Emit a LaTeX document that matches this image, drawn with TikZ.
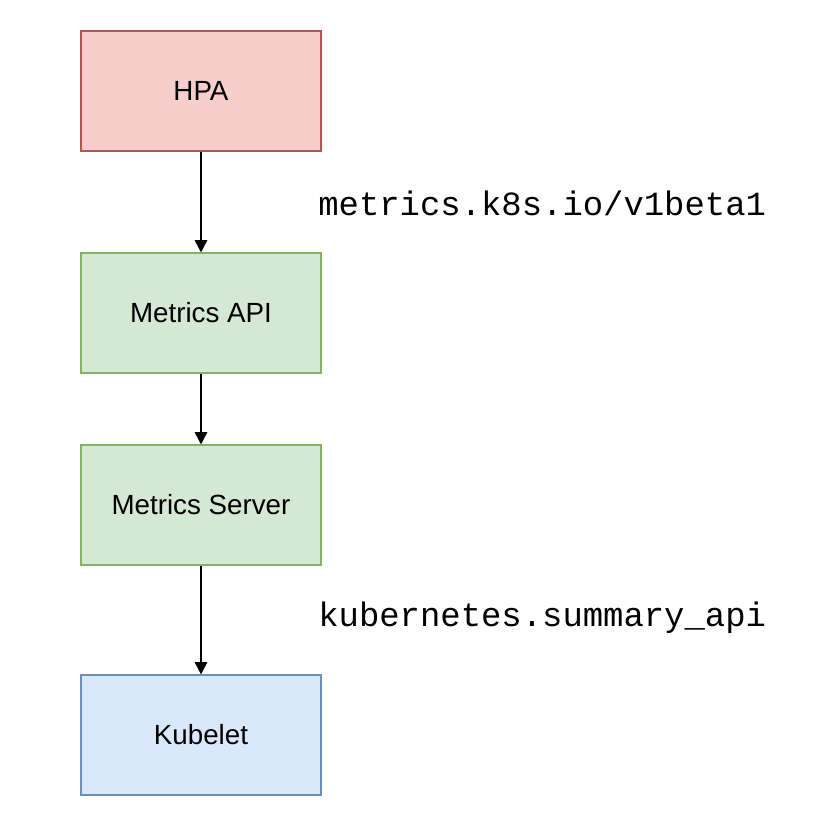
\documentclass[tikz,border=0pt]{standalone}
\usepackage{fontspec}
\setmainfont{Liberation Sans}
\newfontfamily\codefont{Liberation Mono}
\usetikzlibrary{arrows.meta}
\definecolor{hpafill}{HTML}{F8CECC}
\definecolor{hpaline}{HTML}{B85450}
\definecolor{apifill}{HTML}{D5E8D4}
\definecolor{apiline}{HTML}{82B366}
\definecolor{kubfill}{HTML}{DAE8FC}
\definecolor{kubline}{HTML}{6C8EBF}
\begin{document}
\begin{tikzpicture}[x=0.02cm,y=-0.02cm,
        box/.style={draw,line width=0.6pt,minimum width=240*0.02cm,minimum height=120*0.02cm,
            inner sep=0pt,font=\fontsize{15.8}{18}\selectfont},
        flow/.style={line width=0.9pt,-{Triangle[length=7pt,width=7pt]}},
        tag/.style={anchor=west,inner sep=0pt,font=\codefont\fontsize{19.3}{22}\selectfont}]
        \useasboundingbox[fill=white](0,0) rectangle(834,834);
        \node[box,fill=hpafill,draw=hpaline](hpa) at (201,91){HPA};
        \node[box,fill=apifill,draw=apiline](api) at (201,313){Metrics API};
        \node[box,fill=apifill,draw=apiline](server) at (201,505){Metrics Server};
        \node[box,fill=kubfill,draw=kubline](kubelet) at (201,735){Kubelet};
        \draw[flow](hpa)--(api);
        \draw[flow](api)--(server);
        \draw[flow](server)--(kubelet);
        \node[tag](v1) at (318,203){metrics.k8s.io/v1beta1};
        \node[tag](summary) at (318,618){kubernetes.summary\_api};
    \end{tikzpicture}
\end{document}
